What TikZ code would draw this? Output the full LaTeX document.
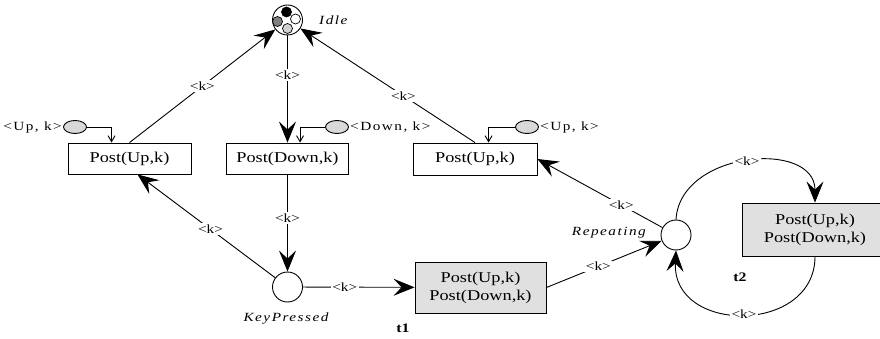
\documentclass[tikz,border=0pt]{standalone}
\usepackage{fontspec}
\setmainfont{Liberation Serif}[FakeStretch=1.22]
\newfontfamily\spacedfont{Liberation Serif}[FakeStretch=1.22,LetterSpace=12]
\usetikzlibrary{arrows.meta,shapes.geometric}
\definecolor{boxgrey}{HTML}{E0E0E0}
\definecolor{tokgrey}{HTML}{D9D9D9}
\definecolor{tokdark}{HTML}{808080}
\definecolor{toklight}{HTML}{D0D0D0}

\begin{document}
\begin{tikzpicture}[x=1pt,y=-1pt,
  place/.style={circle,draw,line width=0.9pt,minimum size=30pt,inner sep=0pt},
  trans/.style={rectangle,draw,line width=0.9pt,inner sep=0pt,align=center,
    font=\fontsize{15}{18}\selectfont},
  transgrey/.style={trans,fill=boxgrey},
  token/.style={circle,draw,line width=0.7pt,minimum size=10pt,inner sep=0pt},
  colortok/.style={ellipse,draw,line width=0.9pt,fill=tokgrey,
    minimum width=23pt,minimum height=13pt,inner sep=0pt},
  pnarc/.style={line width=0.9pt,-{Stealth[length=21pt,width=17pt,inset=8pt]}},
  inarc/.style={line width=0.9pt,-{Straight Barb[length=6pt,width=7pt]}},
  weight/.style={fill=white,inner sep=1.5pt,font=\fontsize{12.5}{14}\selectfont},
  toklabel/.style={inner sep=1pt,font=\spacedfont\fontsize{12.5}{14}\selectfont},
  tag/.style={inner sep=1pt,font=\spacedfont\itshape\fontsize{12.5}{14}\selectfont},
  tname/.style={inner sep=1pt,font=\bfseries\fontsize{13}{15}\selectfont}]
\useasboundingbox (0,0) rectangle (880,339);
\clip (0,0) rectangle (880,339);

% places
\node[place] (idle) at (287.5,20) {};
\node[token,fill=black]    (tkA) at (286.5,12) {};
\node[token,fill=tokdark]  (tkB) at (277.5,21.5) {};
\node[token,fill=white]    (tkC) at (295.5,19) {};
\node[token,fill=toklight] (tkD) at (287.5,28.5) {};
\node[tag,anchor=west] (idleL) at (318,20) {Idle};

\node[place] (keyP) at (287.5,287) {};
\node[tag] (keyPL) at (286,319) {KeyPressed};

\node[place] (rep) at (676,235) {};
\node[tag,anchor=east] (repL) at (647,233) {Repeating};

% transitions
\node[trans,minimum width=123pt,minimum height=31pt] (upL) at (129.5,158.5) {Post(Up,k)};
\node[trans,minimum width=122pt,minimum height=31pt] (downB) at (287.5,158.5) {Post(Down,k)};
\node[trans,minimum width=124pt,minimum height=32pt] (upR) at (475,159) {Post(Up,k)};
\node[transgrey,minimum width=131pt,minimum height=51pt] (t1) at (480.5,287.5) {Post(Up,k)\\Post(Down,k)};
\node[tname] (t1L) at (403,328) {t1};
\node[transgrey,minimum width=146pt,minimum height=53pt] (t2) at (815,229.5) {Post(Up,k)\\Post(Down,k)};
\node[tname] (t2L) at (740,277) {t2};

% coloured tokens feeding the Post transitions
\node[colortok] (cL) at (75,127) {};
\node[toklabel,anchor=east] (cLL) at (cL.west) {<Up, k>};
\node[colortok] (cD) at (337,127) {};
\node[toklabel,anchor=west] (cDL) at (cD.east) {<Down, k>};
\node[colortok] (cR) at (527,127) {};
\node[toklabel,anchor=west] (cRL) at (cR.east) {<Up, k>};

\draw[inarc] (cL.east) -| ([xshift=44pt]upL.north west);
\draw[inarc] (cD.west) -| ([xshift=74pt]downB.north west);
\draw[inarc] (cR.west) -| ([xshift=76pt]upR.north west);

% arcs
\draw[pnarc] (upL.north) -- node[weight,pos=0.5]{<k>} (idle);
\draw[pnarc] (idle) -- node[weight,pos=0.37]{<k>} (downB.north);
\draw[pnarc] (upR.north) -- node[weight,pos=0.41]{<k>} (idle);
\draw[pnarc] (downB.south) -- node[weight,pos=0.45]{<k>} (keyP);
\draw[pnarc] (keyP) -- node[weight,pos=0.47]{<k>} ([xshift=8pt]upL.south);
\draw[pnarc] (keyP) -- node[weight,pos=0.375]{<k>} (t1);
\draw[pnarc] (t1.east) -- node[weight,pos=0.45]{<k>} (rep);
\draw[pnarc] (rep) -- node[weight,pos=0.33]{<k>} (upR.east);
\draw[pnarc] (rep.north) .. controls +(4,-69) and +(0,-63) .. node[weight,pos=0.5]{<k>} (t2.north);
\draw[pnarc] (t2.south) .. controls +(0,78) and +(-4,84) .. node[weight,pos=0.5]{<k>} (rep.south);
\end{tikzpicture}
\end{document}
